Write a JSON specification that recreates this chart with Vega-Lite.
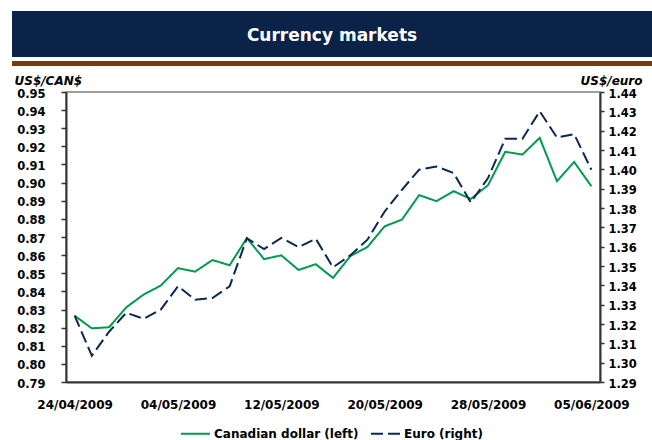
{
  "$schema": "https://vega.github.io/schema/vega-lite/v6.json",
  "padding": {"left": 12, "top": 11, "right": 0, "bottom": 0},
  "background": "white",
  "spacing": 4,
  "vconcat": [
    {
      "spacing": 0,
      "vconcat": [
        {
          "width": 640,
          "height": 46,
          "view": {"fill": "#0B2349", "stroke": null},
          "data": {"values": [{"t": "Currency markets"}]},
          "mark": {"type": "text", "color": "white", "font": "DejaVu Sans", "fontWeight": "bold", "fontSize": 17, "baseline": "middle", "dy": 2},
          "encoding": {"text": {"field": "t"}}
        },
        {
          "width": 640,
          "height": 5,
          "view": {"fill": "#7B3A0C", "stroke": null},
          "data": {"values": [{"t": ""}]},
          "mark": {"type": "text"},
          "encoding": {"text": {"field": "t"}}
        }
      ]
    },
    {
      "spacing": 0,
      "hconcat": [
        {
          "width": 1,
          "height": 290,
          "view": {"stroke": null},
          "data": {"values": [{"t": ""}]},
          "mark": {"type": "text"},
          "encoding": {"text": {"field": "t"}}
        },
        {
          "width": 534,
          "height": 290,
          "view": {"stroke": "#808080", "strokeWidth": 1.5},
          "data": {"values": [
            {"date": "24/04/2009", "cad": 0.8266, "eur": 1.3243},
            {"date": "27/04/2009", "cad": 0.8196, "eur": 1.3036},
            {"date": "28/04/2009", "cad": 0.8202, "eur": 1.3160},
            {"date": "29/04/2009", "cad": 0.8312, "eur": 1.3258},
            {"date": "30/04/2009", "cad": 0.8382, "eur": 1.3227},
            {"date": "01/05/2009", "cad": 0.8432, "eur": 1.3274},
            {"date": "04/05/2009", "cad": 0.8528, "eur": 1.3395},
            {"date": "05/05/2009", "cad": 0.8509, "eur": 1.3326},
            {"date": "06/05/2009", "cad": 0.8573, "eur": 1.3334},
            {"date": "07/05/2009", "cad": 0.8544, "eur": 1.3395},
            {"date": "08/05/2009", "cad": 0.8694, "eur": 1.3643},
            {"date": "11/05/2009", "cad": 0.8578, "eur": 1.3588},
            {"date": "12/05/2009", "cad": 0.8599, "eur": 1.3645},
            {"date": "13/05/2009", "cad": 0.8518, "eur": 1.3598},
            {"date": "14/05/2009", "cad": 0.8550, "eur": 1.3641},
            {"date": "15/05/2009", "cad": 0.8474, "eur": 1.3493},
            {"date": "18/05/2009", "cad": 0.8594, "eur": 1.3555},
            {"date": "19/05/2009", "cad": 0.8645, "eur": 1.3636},
            {"date": "20/05/2009", "cad": 0.8759, "eur": 1.3782},
            {"date": "21/05/2009", "cad": 0.8796, "eur": 1.3894},
            {"date": "22/05/2009", "cad": 0.8931, "eur": 1.3998},
            {"date": "25/05/2009", "cad": 0.8898, "eur": 1.4015},
            {"date": "26/05/2009", "cad": 0.8953, "eur": 1.3981},
            {"date": "27/05/2009", "cad": 0.8910, "eur": 1.3829},
            {"date": "28/05/2009", "cad": 0.8986, "eur": 1.3955},
            {"date": "29/05/2009", "cad": 0.9170, "eur": 1.4158},
            {"date": "01/06/2009", "cad": 0.9155, "eur": 1.4158},
            {"date": "02/06/2009", "cad": 0.9247, "eur": 1.4300},
            {"date": "03/06/2009", "cad": 0.9008, "eur": 1.4165},
            {"date": "04/06/2009", "cad": 0.9114, "eur": 1.4182},
            {"date": "05/06/2009", "cad": 0.8980, "eur": 1.3998}
          ]},
          "encoding": {
            "x": {
              "field": "date",
              "type": "ordinal",
              "sort": null,
              "scale": {"type": "point", "padding": 0.5},
              "axis": {
                "title": null,
                "values": ["24/04/2009", "04/05/2009", "12/05/2009", "20/05/2009", "28/05/2009", "05/06/2009"],
                "labelAngle": 0,
                "labelFontSize": 12,
                "labelPadding": 17,
                "ticks": false
              }
            }
          },
          "layer": [
            {
              "mark": {"type": "line", "strokeWidth": 2},
              "encoding": {
                "y": {
                  "field": "cad",
                  "type": "quantitative",
                  "scale": {"domain": [0.79, 0.95], "nice": false, "zero": false},
                  "axis": {
                    "orient": "left",
                    "title": "US$/CAN$",
                    "titleAngle": 0,
                    "titleAlign": "left",
                    "titleBaseline": "middle",
                    "titleX": -52,
                    "titleY": -12,
                    "titleFont": "DejaVu Sans",
                    "titleFontSize": 12,
                    "titleFontStyle": "italic",
                    "titleFontWeight": "bold",
                    "titleColor": "#000",
                    "values": [0.79, 0.80, 0.81, 0.82, 0.83, 0.84, 0.85, 0.86, 0.87, 0.88, 0.89, 0.90, 0.91, 0.92, 0.93, 0.94, 0.95],
                    "format": ".2f",
                    "labelFontSize": 11.5,
                    "labelPadding": 16,
                    "labelOffset": 2,
                    "tickSize": 5
                  }
                },
                "color": {
                  "datum": "Canadian dollar (left)",
                  "scale": {"domain": ["Canadian dollar (left)", "Euro (right)"], "range": ["#009B4E", "#0C2750"]},
                  "legend": {"title": null}
                },
                "strokeDash": {
                  "datum": "Canadian dollar (left)",
                  "scale": {"domain": ["Canadian dollar (left)", "Euro (right)"], "range": [[1, 0], [12, 5]]},
                  "legend": {"title": null}
                }
              }
            },
            {
              "mark": {"type": "line", "strokeWidth": 2},
              "encoding": {
                "y": {
                  "field": "eur",
                  "type": "quantitative",
                  "scale": {"domain": [1.29, 1.44], "nice": false, "zero": false},
                  "axis": {
                    "orient": "right",
                    "title": "US$/euro",
                    "titleAngle": 0,
                    "titleAlign": "right",
                    "titleBaseline": "middle",
                    "titleX": 42,
                    "titleY": -12,
                    "titleFont": "DejaVu Sans",
                    "titleFontSize": 12,
                    "titleFontStyle": "italic",
                    "titleFontWeight": "bold",
                    "titleColor": "#000",
                    "values": [1.29, 1.30, 1.31, 1.32, 1.33, 1.34, 1.35, 1.36, 1.37, 1.38, 1.39, 1.40, 1.41, 1.42, 1.43, 1.44],
                    "format": ".2f",
                    "labelFontSize": 11.5,
                    "labelPadding": 4,
                    "labelOffset": 2,
                    "tickSize": 4
                  }
                },
                "color": {
                  "datum": "Euro (right)",
                  "scale": {"domain": ["Canadian dollar (left)", "Euro (right)"], "range": ["#009B4E", "#0C2750"]},
                  "legend": {"title": null}
                },
                "strokeDash": {
                  "datum": "Euro (right)",
                  "scale": {"domain": ["Canadian dollar (left)", "Euro (right)"], "range": [[1, 0], [12, 5]]},
                  "legend": {"title": null}
                }
              }
            }
          ],
          "resolve": {"scale": {"y": "independent"}}
        }
      ]
    }
  ],
  "config": {
    "font": "DejaVu Sans",
    "axis": {
      "labelFont": "DejaVu Sans",
      "labelFontWeight": "bold",
      "labelColor": "#000",
      "grid": false,
      "domainColor": "#333",
      "domainWidth": 2,
      "tickColor": "#333",
      "tickWidth": 1.5
    },
    "legend": {
      "orient": "none",
      "legendX": 168,
      "legendY": 407,
      "direction": "horizontal",
      "labelFont": "DejaVu Sans",
      "labelFontWeight": "bold",
      "labelFontSize": 12,
      "labelColor": "#000",
      "labelOffset": 3,
      "columnPadding": 8,
      "symbolType": "stroke",
      "symbolSize": 841,
      "symbolStrokeWidth": 2,
      "padding": 0
    }
  }
}
